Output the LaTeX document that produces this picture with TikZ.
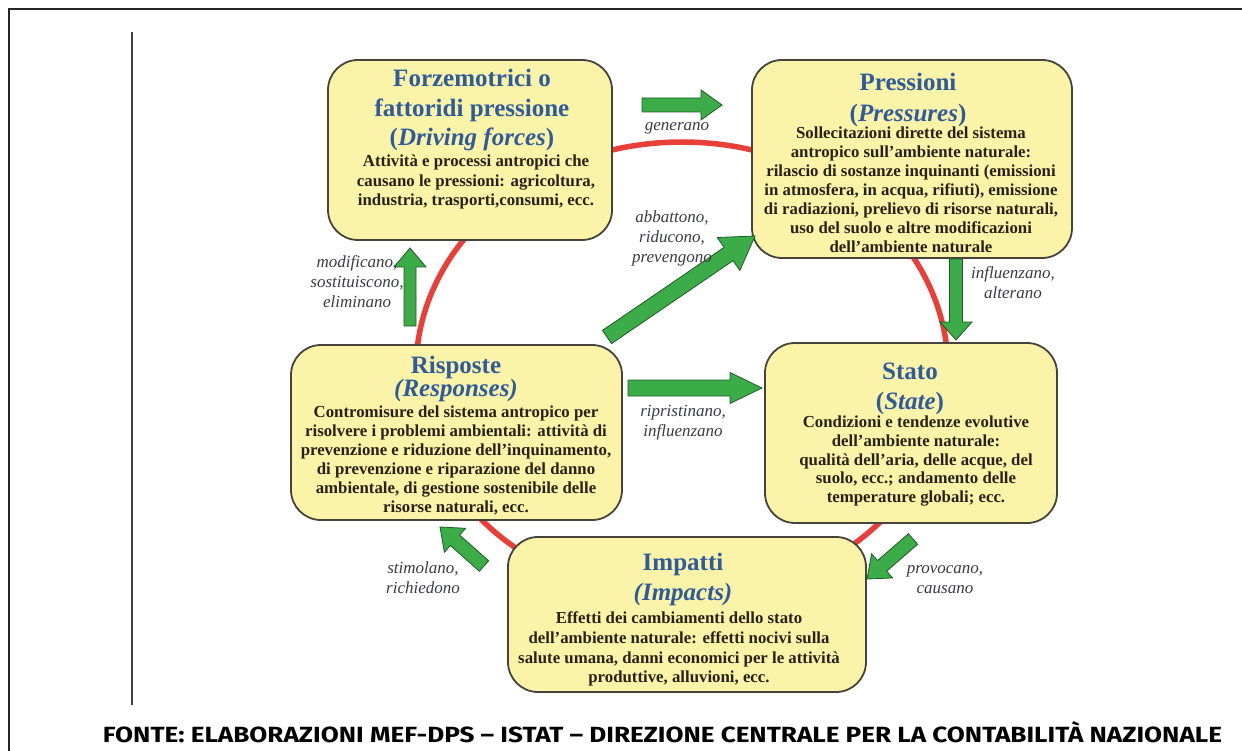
\documentclass[tikz,border=0pt]{standalone}
\usepackage{fontspec}
\setmainfont{Liberation Serif}
\newfontfamily\footfont{Fira Sans}
\usetikzlibrary{calc}
\definecolor{boxfill}{RGB}{250,243,168}
\definecolor{boxline}{RGB}{70,68,58}
\definecolor{titleblue}{RGB}{47,91,155}
\definecolor{bodytext}{RGB}{40,34,22}
\definecolor{labeltext}{RGB}{58,58,70}
\definecolor{cyclered}{RGB}{232,64,56}
\definecolor{arrowgreen}{RGB}{60,172,72}
\definecolor{arrowedge}{RGB}{30,90,35}
\tikzset{
  box/.style={draw=boxline, fill=boxfill, line width=1.8pt, rounded corners=30pt, inner sep=0pt},
  titletext/.style={anchor=north, inner sep=0pt, align=center, text=titleblue, font=\fontsize{25}{#1}\selectfont\bfseries},
  bodytxt/.style={anchor=north, inner sep=0pt, align=center, text=bodytext, font=\fontsize{16.8}{#1}\selectfont\bfseries},
  lbl/.style={inner sep=0pt, align=center, text=labeltext, font=\fontsize{17}{20}\selectfont\itshape},
  garrowstyle/.style={fill=arrowgreen, draw=arrowedge, line width=0.8pt, line join=miter},
  cycle line/.style={draw=cyclered, line width=5.5pt}
}
\newcommand{\garrow}[5]{%
  \coordinate (ga-h) at ($(#2)!#5!(#1)$);
  \draw[garrowstyle] ($(#1)!#3!90:(#2)$) -- ($(ga-h)!#3!90:(#2)$) -- ($(ga-h)!#4!90:(#2)$) -- (#2)
    -- ($(ga-h)!#4!-90:(#2)$) -- ($(ga-h)!#3!-90:(#2)$) -- ($(#1)!#3!-90:(#2)$) -- cycle;}
\begin{document}
\begin{tikzpicture}[x=1pt, y=-1pt]
\useasboundingbox (0,0) rectangle (1242,751);
% frame
\draw[line width=2.2pt, black!85] (9,751) -- (9,9) -- (1242,9);
\draw[line width=1.6pt, black!75] (132,32) -- (132,705);
% cycle
\draw[cycle line] (682,370) ellipse [x radius=266, y radius=228];
% boxes
\node[box, minimum width=284pt, minimum height=180pt] (df) at (470,150) {};
\node[box, minimum width=320pt, minimum height=198pt] (pr) at (912,159) {};
\node[box, minimum width=331pt, minimum height=175pt] (rs) at (456.5,432.5) {};
\node[box, minimum width=292pt, minimum height=180pt] (st) at (911,433) {};
\node[box, minimum width=358pt, minimum height=155pt] (im) at (687,614.5) {};
% box texts
\node[titletext=29.5] (dft) at (472,69) {Forzemotrici o\\fattoridi pressione\\(\textit{Driving forces})};
\node[bodytxt=19.5] (dfb) at (476,154.7) {Attività e processi antropici che\\causano le pressioni: agricoltura,\\industria, trasporti,consumi, ecc.};
\node[titletext=31] (prt) at (908,73) {Pressioni\\(\textit{Pressures})};
\node[bodytxt=19] (prb) at (911,126.6) {Sollecitazioni dirette del sistema\\antropico sull’ambiente naturale:\\rilascio di sostanze inquinanti (emissioni\\in atmosfera, in acqua, rifiuti), emissione\\di radiazioni, prelievo di risorse naturali,\\uso del suolo e altre modificazioni\\dell’ambiente naturale};
\node[titletext=20.5] (rst) at (456,355.5) {Risposte\\\textit{(Responses)}};
\node[bodytxt=19] (rsb) at (456,405.6) {Contromisure del sistema antropico per\\risolvere i problemi ambientali: attività di\\prevenzione e riduzione dell’inquinamento,\\di prevenzione e riparazione del danno\\ambientale, di gestione sostenibile delle\\risorse naturali, ecc.};
\node[titletext=30] (stt) at (910,362.5) {Stato\\(\textit{State})};
\node[bodytxt=18.8] (stb) at (916,415.6) {Condizioni e tendenze evolutive\\dell’ambiente naturale:\\qualità dell’aria, delle acque, del\\suolo, ecc.; andamento delle\\temperature globali; ecc.};
\node[titletext=30] (imt) at (683,552.5) {Impatti\\\textit{(Impacts)}};
\node[bodytxt=19.7] (imb) at (679,611.6) {Effetti dei cambiamenti dello stato\\dell’ambiente naturale: effetti nocivi sulla\\salute umana, danni economici per le attività\\produttive, alluvioni, ecc.};
% green arrows
\coordinate (a1s) at (642,105); \coordinate (a1e) at (722,105);
\coordinate (a2s) at (956,259); \coordinate (a2e) at (956,340);
\coordinate (a3s) at (913,539); \coordinate (a3e) at (867,579);
\coordinate (a4s) at (484,566); \coordinate (a4e) at (440,527);
\coordinate (a5s) at (410,326); \coordinate (a5e) at (410,248);
\coordinate (a6s) at (607,337); \coordinate (a6e) at (755,236);
\coordinate (a7s) at (628,388); \coordinate (a7e) at (762,388);
\garrow{a1s}{a1e}{7pt}{15pt}{21pt}
\garrow{a2s}{a2e}{6.5pt}{16pt}{18pt}
\garrow{a3s}{a3e}{7pt}{16pt}{20pt}
\garrow{a4s}{a4e}{7pt}{16pt}{20pt}
\garrow{a5s}{a5e}{6pt}{16pt}{19pt}
\garrow{a6s}{a6e}{8pt}{20pt}{32pt}
\garrow{a7s}{a7e}{8pt}{15.5pt}{32pt}
% labels
\node[lbl] (l1) at (677,128) {generano};
\node[lbl] (l2) at (672,238) {abbattono,\\riducono,\\prevengono};
\node[lbl] (l3) at (357,282) {modificano,\\sostituiscono,\\eliminano};
\node[lbl] (l4) at (1013,283) {influenzano,\\alterano};
\node[lbl] (l5) at (683,423) {ripristinano,\\influenzano};
\node[lbl] (l6) at (423,578) {stimolano,\\richiedono};
\node[lbl] (l7) at (945,580) {provocano,\\causano};
% footer
\node[anchor=base, inner sep=0pt] (src) at (662.5,742) {\resizebox{1119pt}{21pt}{\footfont\bfseries FONTE: ELABORAZIONI MEF-DPS – ISTAT – DIREZIONE CENTRALE PER LA CONTABILITÀ NAZIONALE}};
\end{tikzpicture}
\end{document}
